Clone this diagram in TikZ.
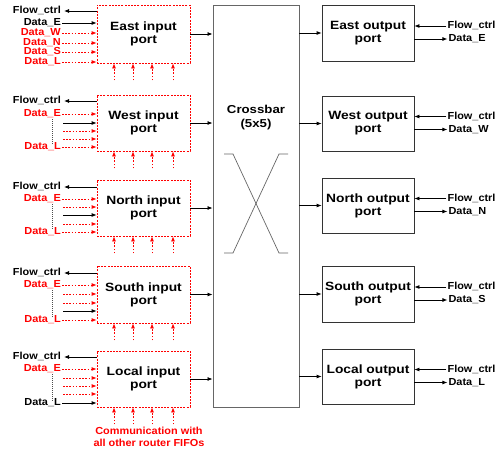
\documentclass[tikz,border=0pt]{standalone}
\usepackage{fontspec}
\newfontfamily\lab[FakeStretch=1.15]{Liberation Sans}
\newfontfamily\labn[FakeStretch=1.07]{Liberation Sans}
\usetikzlibrary{arrows.meta}
\tikzset{
  inbox/.style={draw=red, dash pattern=on 2pt off 1.2pt, line width=0.8pt, minimum width=93pt, align=center, inner sep=0pt, font=\lab\bfseries\fontsize{12}{13}\selectfont},
  outbox/.style={draw=black!80, line width=0.8pt, minimum width=92pt, align=center, inner sep=0pt, font=\lab\bfseries\fontsize{12}{13}\selectfont},
  lbl/.style={font=\labn\bfseries\fontsize{10.2}{11}\selectfont, inner sep=1pt, text height=7pt, text depth=2pt, anchor=east},
  rlbl/.style={font=\labn\bfseries\fontsize{10.2}{11}\selectfont, inner sep=1pt, text height=7pt, text depth=2pt, anchor=west},
  ar/.style={-{Latex[length=5pt,width=4pt]}, line width=0.8pt},
  rar/.style={ar, red, dash pattern=on 1.6pt off 1.6pt},
  vdots/.style={black!70, dash pattern=on 1pt off 1pt, line width=0.6pt},
}
\begin{document}
\begin{tikzpicture}[x=1pt,y=-1pt]
\useasboundingbox (0,0) rectangle (499,450);
% crossbar
\node[draw=black!60, line width=0.9pt, minimum width=86pt, minimum height=402pt, inner sep=0pt] (xb) at (256,206) {};
\node[font=\lab\bfseries\fontsize{11.5}{14}\selectfont, align=center] (xbl) at (256,118) {Crossbar\\(5x5)};
\draw[black!60, line width=0.7pt] (224,154) -- (233,154) -- (279,253) -- (288,253);
\draw[black!60, line width=0.7pt] (288,154) -- (279,154) -- (233,253) -- (224,253);

% ---------- input ports
\node[inbox, minimum height=58pt] (ein) at (143.5,34) {East input\\port};
\node[inbox, minimum height=56pt] (win) at (143.5,123) {West input\\port};
\node[inbox, minimum height=56pt] (nin) at (143.5,208) {North input\\port};
\node[inbox, minimum height=57pt] (sin) at (143.5,294.5) {South input\\port};
\node[inbox, minimum height=56pt] (lin) at (143.5,379) {Local input\\port};

% East rows
\node[lbl] (eF) at (62,11) {Flow\_ctrl};
\draw[ar, shorten >=2pt] (ein.west |- eF.east) -- (eF.east);
\node[lbl] (eE) at (62,23) {Data\_E};
\draw[ar] (eE.east) -- (eE.east -| ein.west);
\node[lbl, red] (eW) at (62,33) {Data\_W};
\draw[rar] (eW.east) -- (eW.east -| ein.west);
\node[lbl, red] (eN) at (62,43) {Data\_N};
\draw[rar] (eN.east) -- (eN.east -| ein.west);
\node[lbl, red] (eS) at (62,52) {Data\_S};
\draw[rar] (eS.east) -- (eS.east -| ein.west);
\node[lbl, red] (eL) at (62,62) {Data\_L};
\draw[rar] (eL.east) -- (eL.east -| ein.west);

% West rows
\node[lbl] (wF) at (62,101) {Flow\_ctrl};
\draw[ar, shorten >=2pt] (win.west |- wF.east) -- (wF.east);
\node[lbl, red] (wE) at (62,114) {Data\_E};
\draw[rar] (wE.east) -- (wE.east -| win.west);
\coordinate (w2) at (63,123);
\draw[ar] (w2) -- (w2 -| win.west);
\coordinate (w3) at (63,131);
\draw[rar] (w3) -- (w3 -| win.west);
\coordinate (w4) at (63,139);
\draw[rar] (w4) -- (w4 -| win.west);
\node[lbl, red] (wL) at (62,147) {Data\_L};
\draw[rar] (wL.east) -- (wL.east -| win.west);
\draw[vdots] (52,119) -- (52,145);

% North rows
\node[lbl] (nF) at (62,187) {Flow\_ctrl};
\draw[ar, shorten >=2pt] (nin.west |- nF.east) -- (nF.east);
\node[lbl, red] (nE) at (62,199) {Data\_E};
\draw[rar] (nE.east) -- (nE.east -| nin.west);
\coordinate (n2) at (63,207);
\draw[rar] (n2) -- (n2 -| nin.west);
\coordinate (n3) at (63,215);
\draw[ar] (n3) -- (n3 -| nin.west);
\coordinate (n4) at (63,224);
\draw[rar] (n4) -- (n4 -| nin.west);
\node[lbl, red] (nL) at (62,232) {Data\_L};
\draw[rar] (nL.east) -- (nL.east -| nin.west);
\draw[vdots] (52,204) -- (52,230);

% South rows
\node[lbl] (sF) at (62,273) {Flow\_ctrl};
\draw[ar, shorten >=2pt] (sin.west |- sF.east) -- (sF.east);
\node[lbl, red] (sE) at (62,285) {Data\_E};
\draw[rar] (sE.east) -- (sE.east -| sin.west);
\coordinate (s2) at (63,294);
\draw[rar] (s2) -- (s2 -| sin.west);
\coordinate (s3) at (63,303);
\draw[rar] (s3) -- (s3 -| sin.west);
\coordinate (s4) at (63,311);
\draw[ar] (s4) -- (s4 -| sin.west);
\node[lbl, red] (sL) at (62,320) {Data\_L};
\draw[rar] (sL.east) -- (sL.east -| sin.west);
\draw[vdots] (52,290) -- (52,318);

% Local rows
\node[lbl] (lF) at (62,357) {Flow\_ctrl};
\draw[ar, shorten >=2pt] (lin.west |- lF.east) -- (lF.east);
\node[lbl, red] (lE) at (62,369) {Data\_E};
\draw[rar] (lE.east) -- (lE.east -| lin.west);
\coordinate (l2) at (63,378);
\draw[rar] (l2) -- (l2 -| lin.west);
\coordinate (l3) at (63,386);
\draw[rar] (l3) -- (l3 -| lin.west);
\coordinate (l4) at (63,394);
\draw[rar] (l4) -- (l4 -| lin.west);
\node[lbl] (lL) at (62,403) {Data\_L};
\draw[ar] (lL.east) -- (lL.east -| lin.west);
\draw[vdots] (52,374) -- (52,401);

% bottom arrows of input ports
\foreach \n in {ein,win,nin,sin,lin}{
  \foreach \dx in {-29.5,-10.5,8.5,29.5}{
    \draw[rar] ([xshift=\dx pt, yshift=-17pt]\n.south) -- ([xshift=\dx pt]\n.south);
  }
  \draw[ar] (\n.east) -- (\n.east -| xb.west);
}

\node[font=\labn\bfseries\fontsize{10.2}{11.5}\selectfont, red, align=center] (comm) at (149,437) {Communication with\\all other router FIFOs};

% ---------- output ports
\node[outbox, minimum height=56pt] (eo) at (368,33) {East output\\port};
\node[outbox, minimum height=55pt] (wo) at (368,123.5) {West output\\port};
\node[outbox, minimum height=55pt] (no) at (368,205.5) {North output\\port};
\node[outbox, minimum height=56pt] (so) at (368,294) {South output\\port};
\node[outbox, minimum height=55pt] (lo) at (368,376.5) {Local output\\port};

\foreach \o/\d in {eo/E,wo/W,no/N,so/S,lo/L}{
  \draw[ar] (\o.west -| xb.east) -- (\o.west);
  \node[rlbl] (\o F) at ([xshift=32pt, yshift=7pt]\o.east) {Flow\_ctrl};
  \draw[ar] (\o F.west) -- (\o F.west -| \o.east);
  \node[rlbl] (\o D) at ([xshift=33pt, yshift=-6pt]\o.east) {Data\_\d};
  \draw[ar] (\o D.west -| \o.east) -- (\o D.west);
}
\end{tikzpicture}
\end{document}
